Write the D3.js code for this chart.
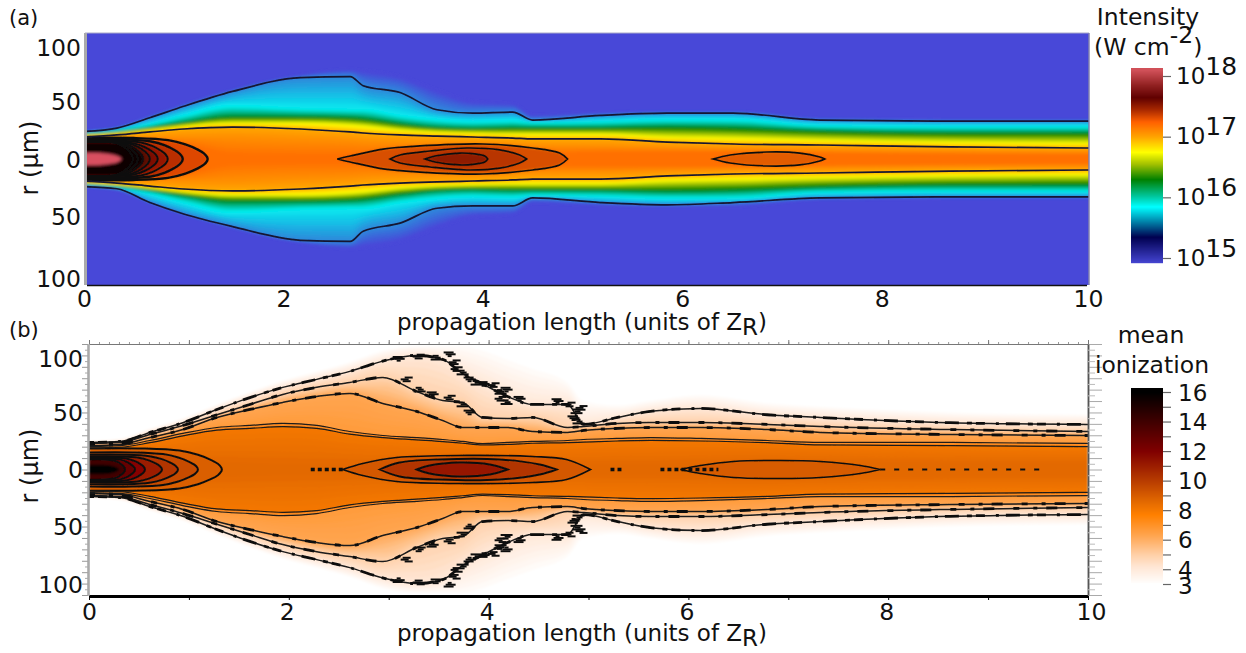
<!DOCTYPE html>
<html>
<head>
<meta charset="utf-8">
<script src="https://cdn.jsdelivr.net/npm/d3@7"></script>
<style>
body { margin: 0; background: #fff; }
text { font-family: "DejaVu Sans", sans-serif; fill: #111; }
</style>
</head>
<body>
<svg id="chart" width="1246" height="653"></svg>
<script>
// panel (a), log10 intensity contours (r in um)
var zA = [0, 0.33, 0.66, 1.0, 1.49, 2.17, 2.67, 2.8, 3.17, 3.54, 3.9, 4.3, 4.5, 5.18, 5.85, 6.51, 7.38, 8.69, 10.1];
var rGlowA = [24, 27, 37, 47, 60, 73, 78, 77, 72, 60, 50, 48, 38, 40, 41, 41, 35, 34, 34];
var rOuterUpA = [24, 27, 36, 46, 59, 71, 72, 64, 58, 43, 40, 41, 34, 38, 40, 40, 34, 33, 33];
var rOuterDownA = [24, 26, 38, 48, 59, 71, 72, 63, 56, 43, 41, 41, 34, 38, 40, 38, 34, 33, 33];
var rCyanA = [22.7, 25.3, 30.6, 38.4, 47.2, 44.5, 43.7, 43.7, 38.4, 34.9, 33.2, 34, 32.3, 33.2, 34.9, 34.9, 29.7, 28.8, 28.8];
var rGreenA = [21.8, 23.6, 27, 31.4, 36.7, 36.7, 35.8, 34.9, 30.6, 27, 26.2, 27, 27, 27, 27.9, 27, 24.5, 22.7, 22.7];
var rYellowA = [20.5, 22.3, 25.3, 28.8, 31.4, 31.4, 29.7, 28.8, 25.3, 23.6, 22.7, 21.8, 21.8, 21.8, 19.2, 18.3, 16.6, 14.8, 14];
var rInnerA = [19.2, 21, 23.6, 26.2, 27.9, 26.2, 23.6, 22.7, 21, 20, 19.2, 18.3, 17.5, 17.5, 14.8, 13.1, 12.2, 10.5, 9.6];
var rMidA = [14, 16, 18, 19, 19, 17, 16, 15, 14, 13, 12.5, 12, 11.5, 11, 10, 9, 8, 7, 6.5];
var rCoreA = [12, 13, 14, 13, 5, 4, 4, 4, 5, 5, 5, 5, 5, 6, 6, 6, 5, 4, 3.5];
var levelsA = [15.0, 15.35, 15.85, 16.3, 16.75, 17.0, 17.12, 17.25];

// caps at the entrance, panel (a): where each contour hits the axis and its half width
var capTipA = [1.24, 0.99, 0.84, 0.74, 0.66, 0.59, 0.54, 0.49];
var capHalfA = [18.3, 17, 16, 15, 15, 15, 15, 15];
var capValueA = [17.42, 17.52, 17.6, 17.66, 17.72, 17.78, 17.84, 17.9];
var pinkZA = [0, 0.15, 0.28, 0.36, 0.38];
var pinkRA = [5.4, 5.2, 4, 1.5, 0];

// closed contours on the axis, panel (a)
var lens1ZA = [2.54, 2.67, 3.0, 3.37, 4.0, 4.5, 4.77, 4.85];
var lens1RA = [0, 2.6, 8.7, 11.4, 13.1, 9.6, 5.2, 0];
var lens2ZA = [3.07, 3.17, 3.47, 3.84, 4.17, 4.37, 4.44];
var lens2RA = [0, 3.5, 7, 9.6, 7.9, 3.5, 0];
var lens3ZA = [3.42, 3.52, 3.77, 3.92, 4.02, 4.05];
var lens3RA = [0, 2.6, 5.2, 4.4, 2.6, 0];
var lens4ZA = [6.31, 6.48, 6.85, 7.18, 7.38, 7.43];
var lens4RA = [0, 3.5, 6.1, 5.2, 1.7, 0];

// panel (b), mean ionization contours
var zB = [0, 0.31, 0.61, 0.94, 1.28, 1.61, 1.94, 2.28, 2.61, 2.94, 3.28, 3.54, 3.74, 3.94, 4.19, 4.44, 4.79, 4.95, 5.29, 5.62, 6.12, 6.79, 7.32, 8.62, 10];
var rHaloB = [25, 27, 36, 45, 57, 68, 78, 86, 94, 104, 108, 108, 108, 104, 96, 88, 76, 60, 56, 60, 65, 58, 55, 50, 48];
var rC1B = [23.7, 24.6, 32.5, 41, 52.6, 63, 72, 79, 86, 95, 100, 96.5, 84, 75, 64, 57, 57, 39.5, 45.6, 51, 53.5, 48, 45.6, 41, 39.5];
var rC2B = [22.8, 23.7, 30.7, 38.6, 48, 57, 65.8, 72, 76.3, 80.7, 68.4, 60.5, 58.8, 45.6, 44.7, 45.6, 36.8, 37.7, 40.4, 41.2, 41.2, 39.5, 37.7, 35, 33.3];
var rC3B = [21, 22, 28, 35, 45.6, 52.6, 58.8, 64, 66.7, 57.9, 50.9, 43, 36.8, 36.8, 36.8, 33.3, 32.5, 34.2, 36, 36.8, 36.8, 35, 32.5, 30.7, 29.8];
var rC4B = [20.2, 21, 25.4, 31.6, 36.8, 38.6, 40.4, 38.6, 33.3, 29.8, 28, 26.3, 24.6, 22.8, 23.7, 24.6, 25.4, 26.3, 27.2, 28, 27.2, 25.4, 23.7, 23.7, 22.8];
var rC5B = [19, 19.5, 23.5, 29.5, 34.5, 36, 37.5, 36, 31, 28, 26, 24.5, 23, 21.5, 22, 23, 23.5, 24, 25, 25.5, 25, 23.5, 21.5, 21, 20];
var rRibbonB = [8, 8, 8, 8, 7, 6, 5, 5, 5, 5, 5, 5, 5, 5, 5, 5, 5, 5, 5, 5, 6, 7, 7, 6, 6];
var levelsB = [3.2, 4.2, 5, 6.3, 6.7, 8.1, 8.6];

var capTipB = [1.33, 1.09, 0.89, 0.73, 0.56, 0.46, 0.36];
var capHalfB = [18.4, 15, 13, 11.4, 10.5, 9.6, 8.8];
var capValueB = [8.9, 9.5, 10.2, 11, 11.8, 12.8, 14];

var lens1ZB = [2.54, 2.74, 3.08, 3.78, 4.44, 4.78, 5.02];
var lens1RB = [0, 5.3, 10.5, 12.3, 11.4, 8.8, 0];
var lens2ZB = [2.91, 3.11, 3.51, 4.11, 4.51, 4.68];
var lens2RB = [0, 6.1, 8.8, 8.8, 4.4, 0];
var lens3ZB = [3.28, 3.41, 3.71, 4.01, 4.19];
var lens3RB = [0, 3.5, 6.1, 4.4, 0];
var lens4ZB = [5.92, 6.12, 6.45, 6.92, 7.32, 7.72, 7.92];
var lens4RB = [0, 3.5, 7, 7.9, 7, 3.5, 0];

// places where the outer contours of (b) break up into short dashes
var noiseZ = [3.1, 3.3, 3.48, 3.61, 3.66, 3.74, 3.81, 3.68, 3.88, 3.95, 4.05, 4.12, 4.18, 4.12, 4.18, 4.31, 4.81, 4.88, 4.85, 4.93, 4.9, 4.69, 3.18, 3.31, 3.44, 3.61, 3.74, 3.81];
var noiseR = [97, 99, 98, 101, 94, 85, 79, 88, 76, 75, 74, 68, 70, 62, 59, 62, 57, 51, 45, 54, 42, 60, 79, 70, 66, 63, 57, 50];

// colour tables
var stopsA = [15.0, 15.35, 15.85, 16.05, 16.3, 16.55, 16.75, 17, 17.25, 17.45, 17.65, 17.85, 18];
var coloursA = ["#4848d8", "#2a8fdc", "#00f0f0", "#00c0a0", "#008000", "#a0c000", "#ffff00", "#ffa500", "#ff7000", "#d84000", "#800c00", "#1c0000", "#d85060"];
var barStopsA = [14.9, 15.35, 15.85, 16.02, 16.3, 16.55, 16.75, 17, 17.25, 17.45, 17.65, 17.85, 18.1];
var barColoursA = ["#4848d8", "#000050", "#00ffff", "#00c8a0", "#008000", "#a0c000", "#ffff00", "#ffa500", "#ff6000", "#a82800", "#600000", "#902020", "#d05058"];
var stopsB = [3, 4.2, 5, 6.3, 7.7, 8.5, 10, 12, 16];
var coloursB = ["#ffffff", "#ffe6d4", "#ffd0a8", "#ffa550", "#ff8000", "#e66c00", "#b83c00", "#800000", "#000000"];

var xTicks = [0, 2, 4, 6, 8, 10];
var rTicks = [100, 50, 0, -50, -100];
var barTicksA = [15, 16, 17, 18];
var barTicksB = [16, 14, 12, 10, 8, 6, 4, 3];

var svg = d3.select("#chart");
var defs = svg.append("defs");

function addBlur(id, dev) {
  defs.append("filter").attr("id", id)
      .attr("x", "-5%").attr("y", "-5%").attr("width", "110%").attr("height", "110%")
      .append("feGaussianBlur").attr("stdDeviation", dev);
}
addBlur("blurA", 1.5);
addBlur("blurB", 0.9);
addBlur("soft", 0.45);

function zip(zs, up, down) {
  return zs.map(function(z, i) { return { z: z, up: up[i], down: down[i] }; });
}

function lensPoints(zs, rs) { return zip(zs, rs, rs); }

// shared outline of the entrance caps, as fractions of tip and half width
var capShapeT = [0, 0.4, 0.68, 0.82, 0.92, 0.97, 0.995, 1];
var capShapeH = [1, 1, 0.9, 0.7, 0.45, 0.27, 0.1, 0];
function capPoints(tip, half) {
  return capShapeT.map(function(t, i) {
    return { z: t * tip, up: capShapeH[i] * half, down: capShapeH[i] * half };
  });
}

function makePanel(opts) {
  var x = opts.x, y = opts.y, colour = opts.colour;
  var clipId = "clip" + opts.name;
  defs.append("clipPath").attr("id", clipId).append("rect")
      .attr("x", opts.left).attr("y", opts.top)
      .attr("width", opts.right - opts.left).attr("height", opts.bottom - opts.top);

  var area = d3.area()
      .x(function(d) { return x(d.z); })
      .y0(function(d) { return y(d.up); })
      .y1(function(d) { return y(-d.down); })
      .curve(d3.curveMonotoneX);
  var lineUp = d3.line()
      .x(function(d) { return x(d.z); })
      .y(function(d) { return y(d.up); })
      .curve(d3.curveMonotoneX);
  var lineDown = d3.line()
      .x(function(d) { return x(d.z); })
      .y(function(d) { return y(-d.down); })
      .curve(d3.curveMonotoneX);
  var round = d3.area()
      .x(function(d) { return x(d.z); })
      .y0(function(d) { return y(d.up); })
      .y1(function(d) { return y(-d.down); })
      .curve(d3.curveCatmullRom.alpha(0.5));

  var root = svg.append("g").attr("clip-path", "url(#" + clipId + ")");
  root.append("rect").attr("x", opts.left).attr("y", opts.top)
      .attr("width", opts.right - opts.left).attr("height", opts.bottom - opts.top)
      .attr("fill", opts.base);
  var field = root.append("g").attr("filter", "url(#" + opts.blur + ")");
  var lines = root.append("g").attr("filter", "url(#soft)");

  // stacked bands, outermost level first
  opts.bands.forEach(function(band, k) {
    var next = opts.bands[k + 1];
    var steps = next ? 6 : 1;
    d3.range(steps).forEach(function(s) {
      var t = s / steps;
      var up = next ? d3.interpolateArray(band.up, next.up)(t) : band.up;
      var down = next ? d3.interpolateArray(band.down, next.down)(t) : band.down;
      var v = next ? d3.interpolateNumber(opts.values[k], opts.values[k + 1])(t) : opts.values[k];
      field.append("path").attr("d", area(zip(opts.zs, up, down))).attr("fill", colour(v));
    });
  });

  return { field: field, lines: lines, area: area, round: round, lineUp: lineUp, lineDown: lineDown };
}

function addClosed(panel, pts, fill, width) {
  panel.field.append("path").attr("d", panel.round(pts)).attr("fill", fill);
  if (width) {
    panel.lines.append("path").attr("d", panel.round(pts))
        .attr("fill", "none").attr("stroke", "#111").attr("stroke-width", width);
  }
}

function addTickLabels(g) {
  g.selectAll(".domain").remove();
  g.selectAll(".tick line").remove();
  g.selectAll("text").attr("font-size", 23.5).attr("font-family", "DejaVu Sans");
}

function xTitle(y) {
  var t = svg.append("text").attr("x", 397).attr("y", y).attr("font-size", 23);
  t.append("tspan").text("propagation length (units of Z");
  t.append("tspan").attr("dy", 5).text("R");
  t.append("tspan").attr("dy", -5).text(")");
}

function rTitle(cy) {
  svg.append("text").attr("transform", "translate(38," + cy + ") rotate(-90)")
     .attr("text-anchor", "middle").attr("font-size", 24).text("r (\u03bcm)");
}

// ---------- panel (a) ----------
var xA = d3.scaleLinear().domain([0, 10]).range([84, 1081]);
var yA = d3.scaleLinear().domain([-110, 110]).range([285, 33]);
var colourA = d3.scaleLinear().domain(stopsA).range(coloursA).clamp(true);

var a = makePanel({
  name: "A", x: xA, y: yA, colour: colourA, zs: zA, blur: "blurA", base: colourA(15),
  left: 87, right: 1089, top: 33, bottom: 285, values: levelsA,
  bands: [
    { up: rGlowA, down: rGlowA },
    { up: rOuterUpA, down: rOuterDownA },
    { up: rCyanA, down: rCyanA },
    { up: rGreenA, down: rGreenA },
    { up: rYellowA, down: rYellowA },
    { up: rInnerA, down: rInnerA },
    { up: rMidA, down: rMidA },
    { up: rCoreA, down: rCoreA }
  ]
});

addClosed(a, lensPoints(lens1ZA, lens1RA), "#d85000", 1.7);
addClosed(a, lensPoints(lens2ZA, lens2RA), "#b83400", 1.7);
addClosed(a, lensPoints(lens3ZA, lens3RA), "#8e1c00", 1.7);
addClosed(a, lensPoints(lens4ZA, lens4RA), "#e25c00", 1.7);

capTipA.forEach(function(tip, i) {
  addClosed(a, capPoints(tip, capHalfA[i]), colourA(capValueA[i]), i < 2 ? 2.4 : 2);
});
a.field.append("path").attr("d", a.round(capPoints(0.6, 15))).attr("fill", "#080000");
a.field.append("path").attr("d", a.area(zip(pinkZA, pinkRA, pinkRA))).attr("fill", "#d85060");

[[rOuterUpA, rOuterDownA], [rInnerA, rInnerA]].forEach(function(pair, i) {
  a.lines.append("path").attr("d", a.lineUp(zip(zA, pair[0], pair[1])))
      .attr("fill", "none").attr("stroke", "#151530").attr("stroke-width", 1.7);
  a.lines.append("path").attr("d", a.lineDown(zip(zA, pair[0], pair[1])))
      .attr("fill", "none").attr("stroke", "#151530").attr("stroke-width", 1.7);
});

// frame of (a)
svg.append("line").attr("x1", 85.5).attr("x2", 85.5).attr("y1", 33).attr("y2", 285)
   .attr("stroke", "#aaa").attr("stroke-width", 3);
svg.append("line").attr("x1", 85).attr("x2", 1089).attr("y1", 33).attr("y2", 33)
   .attr("stroke", "#a9a9c8").attr("stroke-width", 1);
svg.append("line").attr("x1", 87).attr("x2", 1087).attr("y1", 285.5).attr("y2", 285.5)
   .attr("stroke", "#111").attr("stroke-width", 1.5);
svg.append("line").attr("x1", 1089).attr("x2", 1089).attr("y1", 33).attr("y2", 285)
   .attr("stroke", "#8080b0").attr("stroke-width", 1.5);

var xAxisA = svg.append("g").attr("transform", "translate(0,285)")
    .call(d3.axisBottom(xA).tickValues(xTicks).tickFormat(d3.format("d")).tickSizeOuter(0));
addTickLabels(xAxisA);
xAxisA.selectAll("text").attr("y", 0).attr("dy", "22").attr("dx", function(d) { return d === 10 ? 7 : 0; });

var yAxisA = svg.append("g").attr("transform", "translate(84,0)")
    .call(d3.axisLeft(yA).tickValues(rTicks).tickFormat(function(d) { return Math.abs(d); }).tickSizeOuter(0));
addTickLabels(yAxisA);
yAxisA.selectAll("text").attr("x", -3).attr("dy", function(d) {
  return (d === 100 ? 3 : d === -100 ? 4.5 : 0) + 8;
});

svg.append("text").attr("x", 9).attr("y", 25).attr("font-size", 21).text("(a)");
xTitle(330);
rTitle(158);

// colour bar (a)
var barA = d3.scaleLinear().domain([15, 18]).range([258, 76]);
var barColourA = d3.scaleLinear().domain(barStopsA).range(barColoursA).clamp(true);
svg.append("g").selectAll("rect").data(d3.range(68, 263)).join("rect")
   .attr("x", 1131).attr("width", 32).attr("y", function(d) { return d; }).attr("height", 1.2)
   .attr("fill", function(d) { return barColourA(barA.invert(d)); });
var barAxisA = svg.append("g").attr("transform", "translate(1163,0)")
    .call(d3.axisRight(barA).tickValues(barTicksA).tickSize(8).tickSizeOuter(0).tickFormat(""));
barAxisA.select(".domain").remove();
barAxisA.selectAll("line").attr("stroke", "#666").attr("stroke-width", 1.2);
barAxisA.selectAll(".tick").each(function(d) {
  var t = d3.select(this).append("text").attr("x", 13).attr("y", 7)
      .attr("font-size", 23).attr("font-family", "DejaVu Sans");
  t.append("tspan").text("10");
  t.append("tspan").attr("dy", -9).attr("font-size", 25).text(d);
});

svg.append("text").attr("x", 1148).attr("y", 25).attr("text-anchor", "middle").attr("font-size", 23.5).text("Intensity");
var unitA = svg.append("text").attr("x", 1094).attr("y", 55).attr("font-size", 23.5);
unitA.append("tspan").text("(W cm");
unitA.append("tspan").attr("dy", -12).text("-2");
unitA.append("tspan").attr("dy", 12).text(")");

// ---------- panel (b) ----------
var xB = d3.scaleLinear().domain([0, 10]).range([89, 1088]);
var yB = d3.scaleLinear().domain([-110, 110]).range([595, 344]);
var colourB = d3.scaleLinear().domain(stopsB).range(coloursB).clamp(true);

var b = makePanel({
  name: "B", x: xB, y: yB, colour: colourB, zs: zB, blur: "blurB", base: "#ffffff",
  left: 89, right: 1088, top: 344, bottom: 595, values: levelsB,
  bands: [
    { up: rHaloB, down: rHaloB },
    { up: rC1B, down: rC1B },
    { up: rC2B, down: rC2B },
    { up: rC3B, down: rC3B },
    { up: rC4B, down: rC4B },
    { up: rC5B, down: rC5B },
    { up: rRibbonB, down: rRibbonB }
  ]
});

addClosed(b, lensPoints(lens1ZB, lens1RB), colourB(9.1), 1.7);
addClosed(b, lensPoints(lens2ZB, lens2RB), colourB(10.2), 1.9);
addClosed(b, lensPoints(lens3ZB, lens3RB), colourB(11.2), 1.9);
addClosed(b, lensPoints(lens4ZB, lens4RB), colourB(9), 1.5);

capTipB.forEach(function(tip, i) {
  addClosed(b, capPoints(tip, capHalfB[i]), colourB(capValueB[i]), 2);
});
b.field.append("path").attr("d", b.round(capPoints(0.3, 4.2))).attr("fill", "#000");

// contour lines with the blotchy look of the noisy data
[rC1B, rC2B, rC3B, rC4B, rC5B].forEach(function(r, i) {
  var pts = zip(zB, r, r);
  [b.lineUp, b.lineDown].forEach(function(line) {
    b.lines.append("path").attr("d", line(pts)).attr("fill", "none")
        .attr("stroke", "#1a1a1a").attr("stroke-width", i < 3 ? 1.5 : 1.2);
    if (i < 3) {
      b.lines.append("path").attr("d", line(pts)).attr("fill", "none")
          .attr("stroke", "#111").attr("stroke-width", 2.8)
          .attr("stroke-dasharray", i === 0 ? "5 4 9 11 3 7 14 8" : "6 14 4 9 11 19");
    }
  });
});

// short dashes where the outer contours break up
var noiseRows = [-1.6, 0, 1.6];
[1, -1].forEach(function(side) {
  noiseRows.forEach(function(row, k) {
    b.lines.append("g").selectAll("line").data(noiseZ.map(function(z, i) { return [z, noiseR[i]]; })).join("line")
        .attr("x1", function(d, i) { return xB(d[0]) - 2 - (i + k) % 3 * 2; })
        .attr("x2", function(d, i) { return xB(d[0]) + 2 + (i + 2 * k) % 3 * 2; })
        .attr("y1", function(d) { return yB(side * (d[1] + row)); })
        .attr("y2", function(d) { return yB(side * (d[1] + row)); })
        .attr("stroke", "#111").attr("stroke-width", 2);
  });
});

// speckle along the axis
var speckleStartZ = [2.22, 5.22, 5.72, 7.92];
var speckleEndZ = [2.55, 5.35, 6.3, 9.55];
speckleStartZ.forEach(function(z0, i) {
  b.lines.append("line").attr("x1", xB(z0)).attr("x2", xB(speckleEndZ[i]))
      .attr("y1", yB(0)).attr("y2", yB(0))
      .attr("stroke", "#111").attr("stroke-width", i === 3 ? 2 : 3.5)
      .attr("stroke-dasharray", i === 3 ? "5 9" : "4 3");
});

// frame of (b)
function minorAxis(axis, transform, values, size, colour, width) {
  var g = svg.append("g").attr("transform", transform)
      .call(axis.tickValues(values).tickSize(size).tickSizeOuter(0).tickFormat(""));
  g.select(".domain").attr("stroke", colour).attr("stroke-width", width);
  g.selectAll("line").attr("stroke", colour);
  return g;
}
var fine = d3.range(0, 101).map(function(d) { return d / 10; });
var major = d3.range(0, 11);
var radial = d3.range(-110, 111, 10);
var radialFine = d3.range(-105, 106, 10);

minorAxis(d3.axisTop(xB), "translate(0,344)", fine, 2, "#999", 1);
minorAxis(d3.axisTop(xB), "translate(0,344)", major, 4, "#777", 1);
minorAxis(d3.axisBottom(xB), "translate(0,596)", fine, 2, "#000", 3);
minorAxis(d3.axisBottom(xB), "translate(0,596)", major, 4, "#000", 3);
minorAxis(d3.axisLeft(yB), "translate(88,0)", radial, 6, "#999", 2);
minorAxis(d3.axisLeft(yB), "translate(88,0)", radialFine, 3, "#aaa", 2);
minorAxis(d3.axisRight(yB), "translate(1088,0)", radial, 14, "#aaa", 1.5).select(".domain").attr("stroke", "#555");
minorAxis(d3.axisRight(yB), "translate(1088,0)", radialFine, 7, "#bbb", 1.5).select(".domain").attr("stroke", "#555");

var xAxisB = svg.append("g").attr("transform", "translate(0,596)")
    .call(d3.axisBottom(xB).tickValues(xTicks).tickFormat(d3.format("d")).tickSizeOuter(0));
addTickLabels(xAxisB);
xAxisB.selectAll("text").attr("y", 0).attr("dy", "24").attr("dx", function(d) { return d === 10 ? 3 : -2 * (d > 0); });

var yAxisB = svg.append("g").attr("transform", "translate(84,0)")
    .call(d3.axisLeft(yB).tickValues(rTicks).tickFormat(function(d) { return Math.abs(d); }).tickSizeOuter(0));
addTickLabels(yAxisB);
yAxisB.selectAll("text").attr("x", -1).attr("dy", function(d) {
  return (d === 100 ? 3 : d === -100 ? 1 : 0) + 8;
});

svg.append("text").attr("x", 9).attr("y", 337).attr("font-size", 21).text("(b)");
xTitle(641);
rTitle(466);

// colour bar (b)
var barB = d3.scaleLinear().domain([3, 16]).range([584, 392]);
svg.append("g").selectAll("rect").data(d3.range(388, 583)).join("rect")
   .attr("x", 1131).attr("width", 32).attr("y", function(d) { return d; }).attr("height", 1.2)
   .attr("fill", function(d) { return colourB(barB.invert(d)); });
var barAxisB = svg.append("g").attr("transform", "translate(1163,0)")
    .call(d3.axisRight(barB).ticks(13).tickSize(8).tickSizeOuter(0).tickFormat(""));
barAxisB.select(".domain").remove();
barAxisB.selectAll("line").attr("stroke", "#666").attr("stroke-width", 1.2);
barAxisB.selectAll(".tick").filter(function(d) { return barTicksB.indexOf(d) >= 0; })
    .append("text").attr("x", 15).attr("dy", function(d) { return d === 3 ? 9 : 8; })
    .attr("font-size", 23).attr("font-family", "DejaVu Sans").text(function(d) { return d; });

svg.append("text").attr("x", 1151).attr("y", 343).attr("text-anchor", "middle").attr("font-size", 23.5).text("mean");
svg.append("text").attr("x", 1152).attr("y", 373).attr("text-anchor", "middle").attr("font-size", 23.5).text("ionization");
</script>
</body>
</html>
